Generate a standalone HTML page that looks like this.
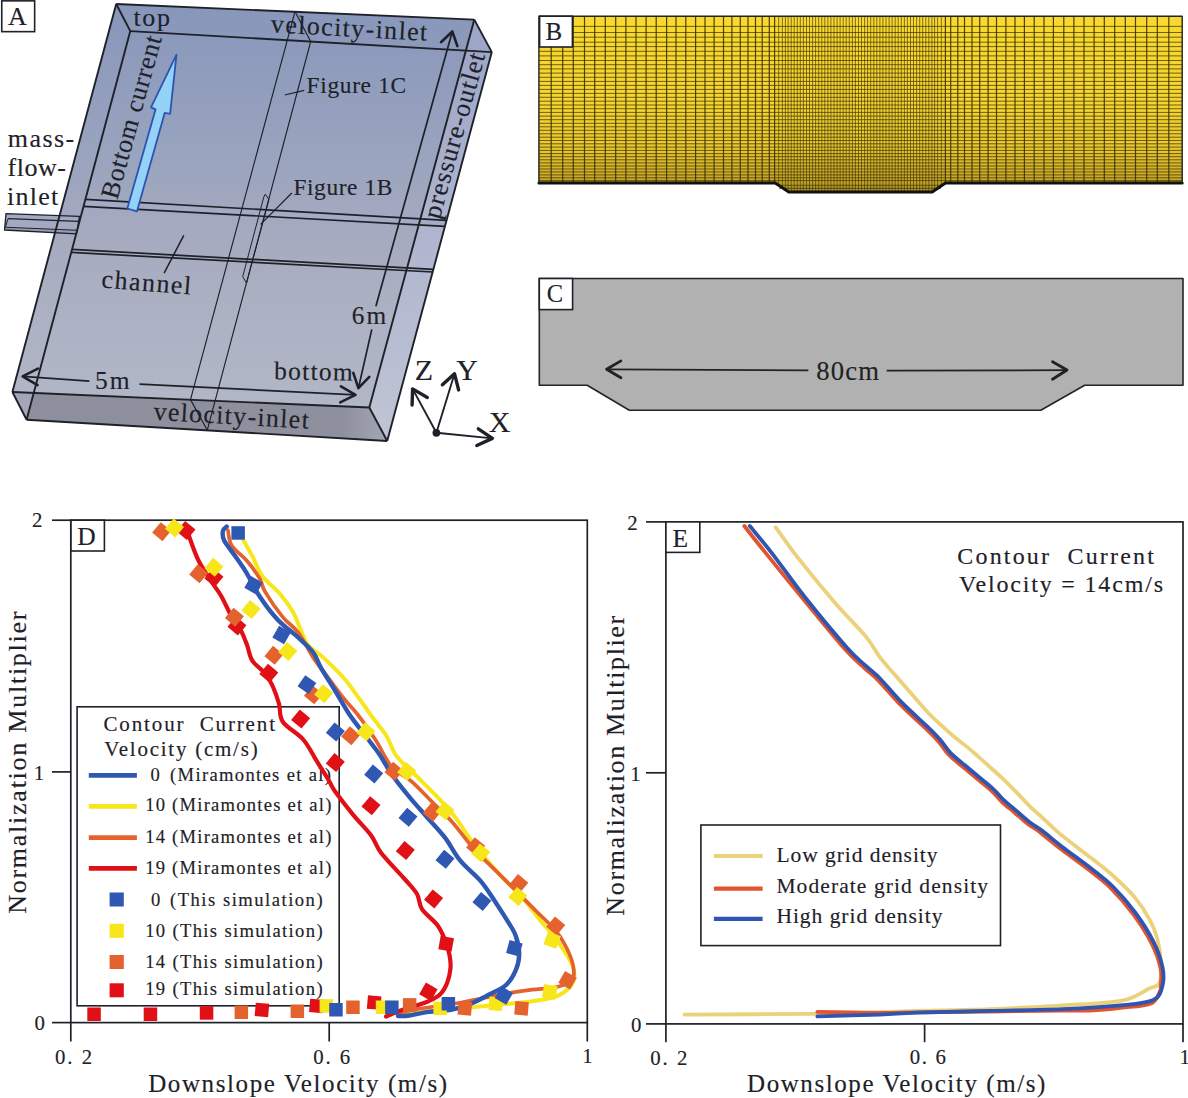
<!DOCTYPE html><html><head><meta charset="utf-8"><style>html,body{margin:0;padding:0;background:#fff;}body{width:1188px;height:1098px;overflow:hidden;}svg{display:block;font-family:"Liberation Serif", serif;}</style></head><body>
<svg width="1188" height="1098" viewBox="0 0 1188 1098">
<defs><linearGradient id="gtop" gradientUnits="userSpaceOnUse" x1="0" y1="4" x2="0" y2="441"><stop offset="0" stop-color="#8796ba"/><stop offset="0.128" stop-color="#8e9bbc"/><stop offset="0.323" stop-color="#98a3be"/><stop offset="0.551" stop-color="#a7abc0"/><stop offset="0.757" stop-color="#adb3c4"/><stop offset="1" stop-color="#b4b9c8"/></linearGradient><linearGradient id="gright" gradientUnits="userSpaceOnUse" x1="0" y1="20" x2="0" y2="441"><stop offset="0" stop-color="#9ca5c8"/><stop offset="1" stop-color="#c0c5d4"/></linearGradient><linearGradient id="gfront" gradientUnits="userSpaceOnUse" x1="12" y1="0" x2="387" y2="0"><stop offset="0" stop-color="#8e8f9c"/><stop offset="0.88" stop-color="#8f909d"/><stop offset="1" stop-color="#a4a6b4"/></linearGradient></defs>
<polygon points="116.2,4.0 474.3,19.6 491.8,52.1 387.2,441.0 26.6,419.7 12.4,392.0" fill="url(#gtop)" stroke="none" stroke-width="1.5" stroke-linejoin="round"/>
<polygon points="474.3,19.6 491.8,52.1 387.2,441.0 369.3,407.5" fill="url(#gright)" stroke="none" stroke-width="1.5" stroke-linejoin="round"/>
<polygon points="12.4,392.0 369.3,407.5 387.2,441.0 26.6,419.7" fill="url(#gfront)" stroke="none" stroke-width="1.5" stroke-linejoin="round"/>
<polygon points="12.4,392.0 33.7,392.9 26.6,419.7" fill="#a3a6b6" stroke="none" stroke-width="1.5" stroke-linejoin="round"/>
<polygon points="85.4,199.4 446.6,220.3 444.9,226.3 83.5,206.3" fill="#a4abc6" stroke="none" stroke-width="1.5" stroke-linejoin="round"/>
<polygon points="72.0,249.4 433.4,269.3 432.7,272.0 71.2,252.4" fill="#a8aec6" stroke="none" stroke-width="1.5" stroke-linejoin="round"/>
<polygon points="6.0,213.6 79.5,216.4 76.5,233.8 4.5,230.0" fill="#a3a9c2" stroke="none" stroke-width="1.5" stroke-linejoin="round"/>
<polygon points="5.4,227.2 77.2,230.3 76.5,233.8 4.5,230.0" fill="#959bb3" stroke="none" stroke-width="1.5" stroke-linejoin="round"/>
<polygon points="6,213.6 79.5,216.4 76.5,233.8 4.5,230" fill="none" stroke="#1e2128" stroke-width="1.3" stroke-linejoin="round"/>
<line x1="8.0" y1="218.6" x2="78.8" y2="221.4" stroke="#1e2128" stroke-width="1.1"/>
<line x1="5.4" y1="227.2" x2="77.2" y2="230.3" stroke="#1e2128" stroke-width="1.1"/>
<line x1="8.0" y1="218.6" x2="5.4" y2="227.2" stroke="#1e2128" stroke-width="1.0"/>
<line x1="116.2" y1="4.0" x2="474.3" y2="19.6" stroke="#1e2128" stroke-width="1.9"/>
<line x1="474.3" y1="19.6" x2="369.3" y2="407.5" stroke="#1e2128" stroke-width="1.9"/>
<line x1="369.3" y1="407.5" x2="12.4" y2="392.0" stroke="#1e2128" stroke-width="1.9"/>
<line x1="12.4" y1="392.0" x2="116.2" y2="4.0" stroke="#1e2128" stroke-width="1.9"/>
<line x1="130.3" y1="31.1" x2="491.8" y2="52.1" stroke="#1e2128" stroke-width="1.9"/>
<line x1="491.8" y1="52.1" x2="387.2" y2="441.0" stroke="#1e2128" stroke-width="1.9"/>
<line x1="387.2" y1="441.0" x2="26.6" y2="419.7" stroke="#1e2128" stroke-width="1.9"/>
<line x1="26.6" y1="419.7" x2="130.3" y2="31.1" stroke="#1e2128" stroke-width="1.9"/>
<line x1="116.2" y1="4.0" x2="130.3" y2="31.1" stroke="#1e2128" stroke-width="1.9"/>
<line x1="474.3" y1="19.6" x2="491.8" y2="52.1" stroke="#1e2128" stroke-width="1.9"/>
<line x1="369.3" y1="407.5" x2="387.2" y2="441.0" stroke="#1e2128" stroke-width="1.9"/>
<line x1="12.4" y1="392.0" x2="26.6" y2="419.7" stroke="#1e2128" stroke-width="1.9"/>
<line x1="85.4" y1="199.4" x2="446.6" y2="220.3" stroke="#1e2128" stroke-width="1.7"/>
<line x1="83.5" y1="206.3" x2="444.9" y2="226.3" stroke="#1e2128" stroke-width="1.7"/>
<line x1="72.0" y1="249.4" x2="433.4" y2="269.3" stroke="#1e2128" stroke-width="1.7"/>
<line x1="71.2" y1="252.4" x2="432.7" y2="272.0" stroke="#1e2128" stroke-width="1.7"/>
<line x1="295.0" y1="11.6" x2="310.7" y2="41.5" stroke="#1e2128" stroke-width="1.15"/>
<line x1="295.0" y1="11.6" x2="190.5" y2="399.6" stroke="#1e2128" stroke-width="1.15"/>
<line x1="310.7" y1="41.5" x2="207.3" y2="430.2" stroke="#1e2128" stroke-width="1.15"/>
<line x1="190.5" y1="399.6" x2="207.3" y2="430.2" stroke="#1e2128" stroke-width="1.15"/>
<polygon points="265.3,194.2 269.0,199.5 246.5,283.0 242.7,276.7 263.8,197.0" fill="none" stroke="#1e2128" stroke-width="1.0" stroke-linejoin="round"/>
<line x1="284.7" y1="95.0" x2="304.2" y2="90.3" stroke="#1e2128" stroke-width="1.2"/>
<line x1="291.8" y1="193.0" x2="260.6" y2="224.4" stroke="#1e2128" stroke-width="1.2"/>
<line x1="183.8" y1="235.3" x2="164.1" y2="273.2" stroke="#1e2128" stroke-width="1.5"/>
<polygon points="127.3,208.5 155.6,109.3 151.0,107.4 176.5,54.6 170.1,113.8 164.7,112.9 137.0,211.3" fill="#94d2f7" stroke="#2a55b0" stroke-width="1.8" stroke-linejoin="round"/>
<line x1="22.6" y1="376.4" x2="89.4" y2="381.2" stroke="#1e2128" stroke-width="1.7"/>
<line x1="139.5" y1="384.2" x2="355.5" y2="394.8" stroke="#1e2128" stroke-width="1.7"/>
<polyline points="37.9,368.7 22.6,376.4 37.5,385.1" fill="none" stroke="#1e2128" stroke-width="2.6" stroke-linejoin="round" stroke-linecap="round" stroke-linecap="butt" stroke-linejoin="miter"/>
<polyline points="340.9,386.4 355.5,394.8 340.2,402.4" fill="none" stroke="#1e2128" stroke-width="2.6" stroke-linejoin="round" stroke-linecap="round" stroke-linecap="butt" stroke-linejoin="miter"/>
<line x1="452.3" y1="31.5" x2="375.9" y2="306.2" stroke="#1e2128" stroke-width="1.7"/>
<line x1="371.8" y1="329.4" x2="358.4" y2="388.2" stroke="#1e2128" stroke-width="1.7"/>
<polyline points="441.0,42.2 452.3,31.5 457.4,46.1" fill="none" stroke="#1e2128" stroke-width="2.6" stroke-linejoin="round" stroke-linecap="round" stroke-linecap="butt" stroke-linejoin="miter"/>
<polyline points="353.3,372.9 358.4,388.2 369.3,376.9" fill="none" stroke="#1e2128" stroke-width="2.6" stroke-linejoin="round" stroke-linecap="round" stroke-linecap="butt" stroke-linejoin="miter"/>
<line x1="436.4" y1="432.8" x2="412.6" y2="388.9" stroke="#1e2128" stroke-width="1.9"/>
<polyline points="412.1,405.0 412.6,388.9 427.3,397.5" fill="none" stroke="#1e2128" stroke-width="3.4" stroke-linejoin="round" stroke-linecap="round" stroke-linecap="butt" stroke-linejoin="miter"/>
<line x1="436.4" y1="432.8" x2="454.5" y2="373.7" stroke="#1e2128" stroke-width="1.9"/>
<polyline points="442.4,384.8 454.5,373.7 458.6,389.9" fill="none" stroke="#1e2128" stroke-width="3.4" stroke-linejoin="round" stroke-linecap="round" stroke-linecap="butt" stroke-linejoin="miter"/>
<line x1="436.4" y1="432.8" x2="492.4" y2="438.4" stroke="#1e2128" stroke-width="1.9"/>
<polyline points="478.3,428.8 492.4,438.4 476.8,445.5" fill="none" stroke="#1e2128" stroke-width="3.4" stroke-linejoin="round" stroke-linecap="round" stroke-linecap="butt" stroke-linejoin="miter"/>
<circle cx="436.4" cy="432.8" r="3.9" fill="#1e2128"/>
<rect x="1.75" y="0.85" width="32.9" height="30.8" fill="#fff" stroke="#1e2128" stroke-width="1.6"/>
<text x="7.9" y="24.9" font-size="26" letter-spacing="0" text-anchor="start" fill="#1e2128" stroke="#1e2128" stroke-width="0.15" xml:space="preserve">A</text>
<text x="7.7" y="147.1" font-size="26" letter-spacing="1.482" text-anchor="start" fill="#1e2128" stroke="#1e2128" stroke-width="0.15" xml:space="preserve">mass-</text>
<text x="7.4" y="175.9" font-size="26" letter-spacing="0.581" text-anchor="start" fill="#1e2128" stroke="#1e2128" stroke-width="0.15" xml:space="preserve">flow-</text>
<text x="6.9" y="205.3" font-size="26" letter-spacing="1.272" text-anchor="start" fill="#1e2128" stroke="#1e2128" stroke-width="0.15" xml:space="preserve">inlet</text>
<text x="133.5" y="25.6" font-size="26" letter-spacing="1.623" text-anchor="start" fill="#1e2128" stroke="#1e2128" stroke-width="0.15" xml:space="preserve">top</text>
<text x="270.6" y="32.3" font-size="26" letter-spacing="1.372" text-anchor="start" fill="#1e2128" stroke="#1e2128" stroke-width="0.15" transform="rotate(3.1 270.6 32.3)" xml:space="preserve">velocity-inlet</text>
<text x="306.6" y="92.6" font-size="23.4" letter-spacing="0.664" text-anchor="start" fill="#1e2128" stroke="#1e2128" stroke-width="0.15" xml:space="preserve">Figure 1C</text>
<text x="293.4" y="194.5" font-size="23.4" letter-spacing="0.608" text-anchor="start" fill="#1e2128" stroke="#1e2128" stroke-width="0.15" xml:space="preserve">Figure 1B</text>
<text x="101.0" y="287.5" font-size="26" letter-spacing="1.494" text-anchor="start" fill="#1e2128" stroke="#1e2128" stroke-width="0.15" transform="rotate(4.5 101.01281818710412 287.5223071063789)" xml:space="preserve">channel</text>
<text x="95.0" y="388.6" font-size="25.5" letter-spacing="1.995" text-anchor="start" fill="#1e2128" stroke="#1e2128" stroke-width="0.15" xml:space="preserve">5m</text>
<text x="351.8" y="323.8" font-size="25.3" letter-spacing="1.953" text-anchor="start" fill="#1e2128" stroke="#1e2128" stroke-width="0.15" xml:space="preserve">6m</text>
<text x="274.0" y="379.2" font-size="25.5" letter-spacing="1.269" text-anchor="start" fill="#1e2128" stroke="#1e2128" stroke-width="0.15" transform="rotate(1.0 274.0 379.2)" xml:space="preserve">bottom</text>
<text x="153.2" y="419.7" font-size="26" letter-spacing="1.295" text-anchor="start" fill="#1e2128" stroke="#1e2128" stroke-width="0.15" transform="rotate(3.3 153.2 419.7)" xml:space="preserve">velocity-inlet</text>
<text x="117.3" y="200.2" font-size="26" letter-spacing="0.751" text-anchor="start" fill="#1e2128" stroke="#1e2128" stroke-width="0.15" transform="rotate(-74.6 117.30109224403088 200.22213005375738)" xml:space="preserve">Bottom current</text>
<text x="439.4" y="219.9" font-size="26" letter-spacing="1.148" text-anchor="start" fill="#1e2128" stroke="#1e2128" stroke-width="0.15" transform="rotate(-74.4 439.3873373017149 219.90351244253534)" xml:space="preserve">pressure-outlet</text>
<text x="414.8" y="379.8" font-size="30" letter-spacing="1.351" text-anchor="start" fill="#1e2128" stroke="#1e2128" stroke-width="0.15" xml:space="preserve">Z</text>
<text x="456.3" y="379.8" font-size="30" letter-spacing="-1.866" text-anchor="start" fill="#1e2128" stroke="#1e2128" stroke-width="0.15" xml:space="preserve">Y</text>
<text x="488.7" y="431.8" font-size="30" letter-spacing="-0.264" text-anchor="start" fill="#1e2128" stroke="#1e2128" stroke-width="0.15" xml:space="preserve">X</text>
<g id="panelB">
<linearGradient id="gmesh" x1="0" y1="0" x2="0" y2="1"><stop offset="0" stop-color="#f8d92e"/><stop offset="0.5" stop-color="#f4d42e"/><stop offset="0.75" stop-color="#e8c82c"/><stop offset="0.9" stop-color="#d0b028"/><stop offset="1" stop-color="#b09422"/></linearGradient>
<polygon points="538.9,16.2 1182.2,16.2 1182.2,182.6 945.5,182.6 932.2,191.8 788.8,191.8 775.2,182.6 538.9,182.6" fill="url(#gmesh)" stroke="none" stroke-width="1.5" stroke-linejoin="round"/>
<g stroke="#3d320c" stroke-width="0.9" opacity="0.8">
<line x1="538.9" y1="26.4" x2="1182.2" y2="26.4" stroke="#3d320c" stroke-width="0.9"/>
<line x1="538.9" y1="32.5" x2="1182.2" y2="32.5" stroke="#3d320c" stroke-width="0.9"/>
<line x1="538.9" y1="37.2" x2="1182.2" y2="37.2" stroke="#3d320c" stroke-width="0.9"/>
<line x1="538.9" y1="42.2" x2="1182.2" y2="42.2" stroke="#3d320c" stroke-width="0.9"/>
<line x1="538.9" y1="46.6" x2="1182.2" y2="46.6" stroke="#3d320c" stroke-width="0.9"/>
<line x1="538.9" y1="51.3" x2="1182.2" y2="51.3" stroke="#3d320c" stroke-width="0.9"/>
<line x1="538.9" y1="55.9" x2="1182.2" y2="55.9" stroke="#3d320c" stroke-width="0.9"/>
<line x1="538.9" y1="60.5" x2="1182.2" y2="60.5" stroke="#3d320c" stroke-width="0.9"/>
<line x1="538.9" y1="64.7" x2="1182.2" y2="64.7" stroke="#3d320c" stroke-width="0.9"/>
<line x1="538.9" y1="68.9" x2="1182.2" y2="68.9" stroke="#3d320c" stroke-width="0.9"/>
<line x1="538.9" y1="73.1" x2="1182.2" y2="73.1" stroke="#3d320c" stroke-width="0.9"/>
<line x1="538.9" y1="77.3" x2="1182.2" y2="77.3" stroke="#3d320c" stroke-width="0.9"/>
<line x1="538.9" y1="81.4" x2="1182.2" y2="81.4" stroke="#3d320c" stroke-width="0.9"/>
<line x1="538.9" y1="85.4" x2="1182.2" y2="85.4" stroke="#3d320c" stroke-width="0.9"/>
<line x1="538.9" y1="89.4" x2="1182.2" y2="89.4" stroke="#3d320c" stroke-width="0.9"/>
<line x1="538.9" y1="93.4" x2="1182.2" y2="93.4" stroke="#3d320c" stroke-width="0.9"/>
<line x1="538.9" y1="97.3" x2="1182.2" y2="97.3" stroke="#3d320c" stroke-width="0.9"/>
<line x1="538.9" y1="101.2" x2="1182.2" y2="101.2" stroke="#3d320c" stroke-width="0.9"/>
<line x1="538.9" y1="105.0" x2="1182.2" y2="105.0" stroke="#3d320c" stroke-width="0.9"/>
<line x1="538.9" y1="108.7" x2="1182.2" y2="108.7" stroke="#3d320c" stroke-width="0.9"/>
<line x1="538.9" y1="112.4" x2="1182.2" y2="112.4" stroke="#3d320c" stroke-width="0.9"/>
<line x1="538.9" y1="116.1" x2="1182.2" y2="116.1" stroke="#3d320c" stroke-width="0.9"/>
<line x1="538.9" y1="119.7" x2="1182.2" y2="119.7" stroke="#3d320c" stroke-width="0.9"/>
<line x1="538.9" y1="123.3" x2="1182.2" y2="123.3" stroke="#3d320c" stroke-width="0.9"/>
<line x1="538.9" y1="126.8" x2="1182.2" y2="126.8" stroke="#3d320c" stroke-width="0.9"/>
<line x1="538.9" y1="130.3" x2="1182.2" y2="130.3" stroke="#3d320c" stroke-width="0.9"/>
<line x1="538.9" y1="133.8" x2="1182.2" y2="133.8" stroke="#3d320c" stroke-width="0.9"/>
<line x1="538.9" y1="137.2" x2="1182.2" y2="137.2" stroke="#3d320c" stroke-width="0.9"/>
<line x1="538.9" y1="140.5" x2="1182.2" y2="140.5" stroke="#3d320c" stroke-width="0.9"/>
<line x1="538.9" y1="143.8" x2="1182.2" y2="143.8" stroke="#3d320c" stroke-width="0.9"/>
<line x1="538.9" y1="147.1" x2="1182.2" y2="147.1" stroke="#3d320c" stroke-width="0.9"/>
<line x1="538.9" y1="150.4" x2="1182.2" y2="150.4" stroke="#3d320c" stroke-width="0.9"/>
<line x1="538.9" y1="153.6" x2="1182.2" y2="153.6" stroke="#3d320c" stroke-width="0.9"/>
<line x1="538.9" y1="156.7" x2="1182.2" y2="156.7" stroke="#3d320c" stroke-width="0.9"/>
<line x1="538.9" y1="159.8" x2="1182.2" y2="159.8" stroke="#3d320c" stroke-width="0.9"/>
<line x1="538.9" y1="162.9" x2="1182.2" y2="162.9" stroke="#3d320c" stroke-width="0.9"/>
<line x1="538.9" y1="166.0" x2="1182.2" y2="166.0" stroke="#3d320c" stroke-width="0.9"/>
<line x1="538.9" y1="169.0" x2="1182.2" y2="169.0" stroke="#3d320c" stroke-width="0.9"/>
<line x1="538.9" y1="171.9" x2="1182.2" y2="171.9" stroke="#3d320c" stroke-width="0.9"/>
<line x1="538.9" y1="174.9" x2="1182.2" y2="174.9" stroke="#3d320c" stroke-width="0.9"/>
<line x1="538.9" y1="177.8" x2="1182.2" y2="177.8" stroke="#3d320c" stroke-width="0.9"/>
<line x1="538.9" y1="180.6" x2="1182.2" y2="180.6" stroke="#3d320c" stroke-width="0.9"/>
<line x1="779.0" y1="185.3" x2="941.0" y2="185.3" stroke="#3d320c" stroke-width="0.9"/>
<line x1="779.0" y1="188.3" x2="941.0" y2="188.3" stroke="#3d320c" stroke-width="0.9"/>
</g>
<g stroke="#3d320c" stroke-width="1.0" opacity="0.9">
<line x1="551.2" y1="16.2" x2="551.2" y2="182.6" stroke="#3d320c" stroke-width="1.2"/>
<line x1="562.7" y1="16.2" x2="562.7" y2="182.6" stroke="#3d320c" stroke-width="1.2"/>
<line x1="573.3" y1="16.2" x2="573.3" y2="182.6" stroke="#3d320c" stroke-width="1.2"/>
<line x1="584.5" y1="16.2" x2="584.5" y2="182.6" stroke="#3d320c" stroke-width="1.2"/>
<line x1="594.7" y1="16.2" x2="594.7" y2="182.6" stroke="#3d320c" stroke-width="1.2"/>
<line x1="605.3" y1="16.2" x2="605.3" y2="182.6" stroke="#3d320c" stroke-width="1.2"/>
<line x1="615.7" y1="16.2" x2="615.7" y2="182.6" stroke="#3d320c" stroke-width="1.2"/>
<line x1="625.9" y1="16.2" x2="625.9" y2="182.6" stroke="#3d320c" stroke-width="1.2"/>
<line x1="636.0" y1="16.2" x2="636.0" y2="182.6" stroke="#3d320c" stroke-width="1.2"/>
<line x1="646.1" y1="16.2" x2="646.1" y2="182.6" stroke="#3d320c" stroke-width="1.2"/>
<line x1="656.2" y1="16.2" x2="656.2" y2="182.6" stroke="#3d320c" stroke-width="1.2"/>
<line x1="666.6" y1="16.2" x2="666.6" y2="182.6" stroke="#3d320c" stroke-width="1.2"/>
<line x1="676.0" y1="16.2" x2="676.0" y2="182.6" stroke="#3d320c" stroke-width="1.2"/>
<line x1="685.8" y1="16.2" x2="685.8" y2="182.6" stroke="#3d320c" stroke-width="1.2"/>
<line x1="695.6" y1="16.2" x2="695.6" y2="182.6" stroke="#3d320c" stroke-width="1.2"/>
<line x1="705.0" y1="16.2" x2="705.0" y2="182.6" stroke="#3d320c" stroke-width="1.2"/>
<line x1="714.1" y1="16.2" x2="714.1" y2="182.6" stroke="#3d320c" stroke-width="1.2"/>
<line x1="723.5" y1="16.2" x2="723.5" y2="182.6" stroke="#3d320c" stroke-width="1.2"/>
<line x1="731.9" y1="16.2" x2="731.9" y2="182.6" stroke="#3d320c" stroke-width="1.2"/>
<line x1="740.3" y1="16.2" x2="740.3" y2="182.6" stroke="#3d320c" stroke-width="1.2"/>
<line x1="748.0" y1="16.2" x2="748.0" y2="182.6" stroke="#3d320c" stroke-width="1.2"/>
<line x1="755.5" y1="16.2" x2="755.5" y2="182.6" stroke="#3d320c" stroke-width="1.2"/>
<line x1="762.2" y1="16.2" x2="762.2" y2="182.6" stroke="#3d320c" stroke-width="1.2"/>
<line x1="769.3" y1="16.2" x2="769.3" y2="182.6" stroke="#3d320c" stroke-width="1.2"/>
<line x1="774.6" y1="16.2" x2="774.6" y2="182.6" stroke="#3d320c" stroke-width="1.2"/>
<line x1="778.7" y1="16.2" x2="778.7" y2="185.0" stroke="#3d320c" stroke-width="0.7"/>
<line x1="782.4" y1="16.2" x2="782.4" y2="187.5" stroke="#3d320c" stroke-width="0.7"/>
<line x1="785.4" y1="16.2" x2="785.4" y2="189.5" stroke="#3d320c" stroke-width="0.7"/>
<line x1="788.1" y1="16.2" x2="788.1" y2="191.3" stroke="#3d320c" stroke-width="0.7"/>
<line x1="791.2" y1="16.2" x2="791.2" y2="191.8" stroke="#3d320c" stroke-width="0.7"/>
<line x1="794.2" y1="16.2" x2="794.2" y2="191.8" stroke="#3d320c" stroke-width="0.7"/>
<line x1="797.3" y1="16.2" x2="797.3" y2="191.8" stroke="#3d320c" stroke-width="0.7"/>
<line x1="800.3" y1="16.2" x2="800.3" y2="191.8" stroke="#3d320c" stroke-width="0.7"/>
<line x1="803.4" y1="16.2" x2="803.4" y2="191.8" stroke="#3d320c" stroke-width="0.7"/>
<line x1="806.5" y1="16.2" x2="806.5" y2="191.8" stroke="#3d320c" stroke-width="0.7"/>
<line x1="809.5" y1="16.2" x2="809.5" y2="191.8" stroke="#3d320c" stroke-width="0.7"/>
<line x1="812.6" y1="16.2" x2="812.6" y2="191.8" stroke="#3d320c" stroke-width="0.7"/>
<line x1="815.6" y1="16.2" x2="815.6" y2="191.8" stroke="#3d320c" stroke-width="0.7"/>
<line x1="818.7" y1="16.2" x2="818.7" y2="191.8" stroke="#3d320c" stroke-width="0.7"/>
<line x1="821.8" y1="16.2" x2="821.8" y2="191.8" stroke="#3d320c" stroke-width="0.7"/>
<line x1="824.8" y1="16.2" x2="824.8" y2="191.8" stroke="#3d320c" stroke-width="0.7"/>
<line x1="827.9" y1="16.2" x2="827.9" y2="191.8" stroke="#3d320c" stroke-width="0.7"/>
<line x1="830.9" y1="16.2" x2="830.9" y2="191.8" stroke="#3d320c" stroke-width="0.7"/>
<line x1="834.0" y1="16.2" x2="834.0" y2="191.8" stroke="#3d320c" stroke-width="0.7"/>
<line x1="837.1" y1="16.2" x2="837.1" y2="191.8" stroke="#3d320c" stroke-width="0.7"/>
<line x1="840.1" y1="16.2" x2="840.1" y2="191.8" stroke="#3d320c" stroke-width="0.7"/>
<line x1="843.2" y1="16.2" x2="843.2" y2="191.8" stroke="#3d320c" stroke-width="0.7"/>
<line x1="846.2" y1="16.2" x2="846.2" y2="191.8" stroke="#3d320c" stroke-width="0.7"/>
<line x1="849.3" y1="16.2" x2="849.3" y2="191.8" stroke="#3d320c" stroke-width="0.7"/>
<line x1="852.4" y1="16.2" x2="852.4" y2="191.8" stroke="#3d320c" stroke-width="0.7"/>
<line x1="855.4" y1="16.2" x2="855.4" y2="191.8" stroke="#3d320c" stroke-width="0.7"/>
<line x1="858.5" y1="16.2" x2="858.5" y2="191.8" stroke="#3d320c" stroke-width="0.7"/>
<line x1="861.5" y1="16.2" x2="861.5" y2="191.8" stroke="#3d320c" stroke-width="0.7"/>
<line x1="864.6" y1="16.2" x2="864.6" y2="191.8" stroke="#3d320c" stroke-width="0.7"/>
<line x1="867.6" y1="16.2" x2="867.6" y2="191.8" stroke="#3d320c" stroke-width="0.7"/>
<line x1="870.7" y1="16.2" x2="870.7" y2="191.8" stroke="#3d320c" stroke-width="0.7"/>
<line x1="873.8" y1="16.2" x2="873.8" y2="191.8" stroke="#3d320c" stroke-width="0.7"/>
<line x1="876.8" y1="16.2" x2="876.8" y2="191.8" stroke="#3d320c" stroke-width="0.7"/>
<line x1="879.9" y1="16.2" x2="879.9" y2="191.8" stroke="#3d320c" stroke-width="0.7"/>
<line x1="882.9" y1="16.2" x2="882.9" y2="191.8" stroke="#3d320c" stroke-width="0.7"/>
<line x1="886.0" y1="16.2" x2="886.0" y2="191.8" stroke="#3d320c" stroke-width="0.7"/>
<line x1="889.1" y1="16.2" x2="889.1" y2="191.8" stroke="#3d320c" stroke-width="0.7"/>
<line x1="892.1" y1="16.2" x2="892.1" y2="191.8" stroke="#3d320c" stroke-width="0.7"/>
<line x1="895.2" y1="16.2" x2="895.2" y2="191.8" stroke="#3d320c" stroke-width="0.7"/>
<line x1="898.2" y1="16.2" x2="898.2" y2="191.8" stroke="#3d320c" stroke-width="0.7"/>
<line x1="901.3" y1="16.2" x2="901.3" y2="191.8" stroke="#3d320c" stroke-width="0.7"/>
<line x1="904.4" y1="16.2" x2="904.4" y2="191.8" stroke="#3d320c" stroke-width="0.7"/>
<line x1="907.4" y1="16.2" x2="907.4" y2="191.8" stroke="#3d320c" stroke-width="0.7"/>
<line x1="910.5" y1="16.2" x2="910.5" y2="191.8" stroke="#3d320c" stroke-width="0.7"/>
<line x1="913.5" y1="16.2" x2="913.5" y2="191.8" stroke="#3d320c" stroke-width="0.7"/>
<line x1="916.6" y1="16.2" x2="916.6" y2="191.8" stroke="#3d320c" stroke-width="0.7"/>
<line x1="919.7" y1="16.2" x2="919.7" y2="191.8" stroke="#3d320c" stroke-width="0.7"/>
<line x1="922.7" y1="16.2" x2="922.7" y2="191.8" stroke="#3d320c" stroke-width="0.7"/>
<line x1="925.8" y1="16.2" x2="925.8" y2="191.8" stroke="#3d320c" stroke-width="0.7"/>
<line x1="928.8" y1="16.2" x2="928.8" y2="191.8" stroke="#3d320c" stroke-width="0.7"/>
<line x1="945.4" y1="16.2" x2="945.4" y2="182.6" stroke="#3d320c" stroke-width="1.2"/>
<line x1="941.3" y1="16.2" x2="941.3" y2="185.5" stroke="#3d320c" stroke-width="0.7"/>
<line x1="937.6" y1="16.2" x2="937.6" y2="188.1" stroke="#3d320c" stroke-width="0.7"/>
<line x1="934.6" y1="16.2" x2="934.6" y2="190.1" stroke="#3d320c" stroke-width="0.7"/>
<line x1="931.9" y1="16.2" x2="931.9" y2="192.0" stroke="#3d320c" stroke-width="0.7"/>
<line x1="1168.8" y1="16.2" x2="1168.8" y2="182.6" stroke="#3d320c" stroke-width="1.2"/>
<line x1="1157.3" y1="16.2" x2="1157.3" y2="182.6" stroke="#3d320c" stroke-width="1.2"/>
<line x1="1146.7" y1="16.2" x2="1146.7" y2="182.6" stroke="#3d320c" stroke-width="1.2"/>
<line x1="1135.5" y1="16.2" x2="1135.5" y2="182.6" stroke="#3d320c" stroke-width="1.2"/>
<line x1="1125.3" y1="16.2" x2="1125.3" y2="182.6" stroke="#3d320c" stroke-width="1.2"/>
<line x1="1114.7" y1="16.2" x2="1114.7" y2="182.6" stroke="#3d320c" stroke-width="1.2"/>
<line x1="1104.3" y1="16.2" x2="1104.3" y2="182.6" stroke="#3d320c" stroke-width="1.2"/>
<line x1="1094.1" y1="16.2" x2="1094.1" y2="182.6" stroke="#3d320c" stroke-width="1.2"/>
<line x1="1084.0" y1="16.2" x2="1084.0" y2="182.6" stroke="#3d320c" stroke-width="1.2"/>
<line x1="1073.9" y1="16.2" x2="1073.9" y2="182.6" stroke="#3d320c" stroke-width="1.2"/>
<line x1="1063.8" y1="16.2" x2="1063.8" y2="182.6" stroke="#3d320c" stroke-width="1.2"/>
<line x1="1053.4" y1="16.2" x2="1053.4" y2="182.6" stroke="#3d320c" stroke-width="1.2"/>
<line x1="1044.0" y1="16.2" x2="1044.0" y2="182.6" stroke="#3d320c" stroke-width="1.2"/>
<line x1="1034.2" y1="16.2" x2="1034.2" y2="182.6" stroke="#3d320c" stroke-width="1.2"/>
<line x1="1024.4" y1="16.2" x2="1024.4" y2="182.6" stroke="#3d320c" stroke-width="1.2"/>
<line x1="1015.0" y1="16.2" x2="1015.0" y2="182.6" stroke="#3d320c" stroke-width="1.2"/>
<line x1="1005.9" y1="16.2" x2="1005.9" y2="182.6" stroke="#3d320c" stroke-width="1.2"/>
<line x1="996.5" y1="16.2" x2="996.5" y2="182.6" stroke="#3d320c" stroke-width="1.2"/>
<line x1="988.1" y1="16.2" x2="988.1" y2="182.6" stroke="#3d320c" stroke-width="1.2"/>
<line x1="979.7" y1="16.2" x2="979.7" y2="182.6" stroke="#3d320c" stroke-width="1.2"/>
<line x1="972.0" y1="16.2" x2="972.0" y2="182.6" stroke="#3d320c" stroke-width="1.2"/>
<line x1="964.5" y1="16.2" x2="964.5" y2="182.6" stroke="#3d320c" stroke-width="1.2"/>
<line x1="957.8" y1="16.2" x2="957.8" y2="182.6" stroke="#3d320c" stroke-width="1.2"/>
<line x1="950.7" y1="16.2" x2="950.7" y2="182.6" stroke="#3d320c" stroke-width="1.2"/>
</g>
<polyline points="538.9,182.9 775.2,182.9 788.8,192.0 932.2,192.0 945.5,182.9 1182.2,182.9" fill="none" stroke="#111" stroke-width="3.0" stroke-linejoin="round" stroke-linecap="round"/>
<polyline points="538.9,182.6 538.9,16.2 1182.2,16.2 1182.2,182.6" fill="none" stroke="#222" stroke-width="1.4" stroke-linejoin="round" stroke-linecap="round"/>
</g>
<rect x="539.6" y="16.2" width="32.8" height="30.8" fill="#fff" stroke="#1e2128" stroke-width="1.6"/>
<text x="545.6" y="40.3" font-size="25" letter-spacing="0" text-anchor="start" fill="#1e2128" stroke="#1e2128" stroke-width="0.15" xml:space="preserve">B</text>
<polygon points="539.3,278.5 1183.0,278.5 1183.0,385.3 1084.7,385.3 1040.8,410.3 629.3,410.3 587.2,385.3 539.3,385.3" fill="#b1b1b1" stroke="#252525" stroke-width="1.6" stroke-linejoin="round"/>
<rect x="539.3" y="278.5" width="33.3" height="31.1" fill="#fff" stroke="#1e2128" stroke-width="1.6"/>
<text x="546.7" y="302.3" font-size="24.5" letter-spacing="0" text-anchor="start" fill="#1e2128" stroke="#1e2128" stroke-width="0.15" xml:space="preserve">C</text>
<line x1="606.6" y1="369.3" x2="808.4" y2="370.3" stroke="#222" stroke-width="1.8"/>
<line x1="886.7" y1="370.6" x2="1067.0" y2="370.2" stroke="#222" stroke-width="1.8"/>
<polyline points="620.9,360.9 606.6,369.3 620.9,377.7" fill="none" stroke="#1e2128" stroke-width="2.8" stroke-linejoin="round" stroke-linecap="round" stroke-linecap="butt" stroke-linejoin="miter"/>
<polyline points="1052.5,361.7 1067.0,370.0 1052.5,379.2" fill="none" stroke="#1e2128" stroke-width="2.8" stroke-linejoin="round" stroke-linecap="round" stroke-linecap="butt" stroke-linejoin="miter"/>
<text x="816.3" y="379.5" font-size="26.7" letter-spacing="1.172" text-anchor="start" fill="#222" stroke="#222" stroke-width="0.15" xml:space="preserve">80cm</text>
<rect x="70.8" y="520.2" width="516.5" height="502.4" fill="none" stroke="#1e2128" stroke-width="1.7"/>
<line x1="52.0" y1="520.2" x2="70.8" y2="520.2" stroke="#1e2128" stroke-width="1.7"/>
<line x1="52.0" y1="771.9" x2="70.8" y2="771.9" stroke="#1e2128" stroke-width="1.7"/>
<line x1="52.0" y1="1022.6" x2="70.8" y2="1022.6" stroke="#1e2128" stroke-width="1.7"/>
<line x1="70.8" y1="1022.6" x2="70.8" y2="1041.5" stroke="#1e2128" stroke-width="1.7"/>
<line x1="329.2" y1="1022.6" x2="329.2" y2="1041.5" stroke="#1e2128" stroke-width="1.7"/>
<line x1="587.3" y1="1022.6" x2="587.3" y2="1041.5" stroke="#1e2128" stroke-width="1.7"/>
<text x="31.9" y="527.3" font-size="20.8" letter-spacing="2.562" text-anchor="start" fill="#1e2128" stroke="#1e2128" stroke-width="0.15" xml:space="preserve">2</text>
<text x="33.7" y="779.5" font-size="20.8" letter-spacing="0.877" text-anchor="start" fill="#1e2128" stroke="#1e2128" stroke-width="0.15" xml:space="preserve">1</text>
<text x="34.5" y="1030.0" font-size="20.8" letter-spacing="1.884" text-anchor="start" fill="#1e2128" stroke="#1e2128" stroke-width="0.15" xml:space="preserve">0</text>
<text x="54.9" y="1063.5" font-size="20.8" letter-spacing="2.013" text-anchor="start" fill="#1e2128" stroke="#1e2128" stroke-width="0.15" xml:space="preserve">0. 2</text>
<text x="313.2" y="1063.5" font-size="20.8" letter-spacing="1.904" text-anchor="start" fill="#1e2128" stroke="#1e2128" stroke-width="0.15" xml:space="preserve">0. 6</text>
<text x="582.2" y="1062.8" font-size="20.8" letter-spacing="-0.323" text-anchor="start" fill="#1e2128" stroke="#1e2128" stroke-width="0.15" xml:space="preserve">1</text>
<text x="148.2" y="1091.5" font-size="25" letter-spacing="1.604" text-anchor="start" fill="#1e2128" stroke="#1e2128" stroke-width="0.15" xml:space="preserve">Downslope Velocity (m/s)</text>
<text x="25.9" y="913.8" font-size="26" letter-spacing="1.751" text-anchor="start" fill="#1e2128" stroke="#1e2128" stroke-width="0.15" transform="rotate(-90 25.9 913.8490234375)" xml:space="preserve">Normalization Multiplier</text>
<rect x="71" y="520.2" width="33.4" height="30.8" fill="#fff" stroke="#1e2128" stroke-width="1.6"/>
<text x="77.2" y="545.1" font-size="25.5" letter-spacing="0" text-anchor="start" fill="#1e2128" stroke="#1e2128" stroke-width="0.15" xml:space="preserve">D</text>
<rect x="77.1" y="706.8" width="262.1" height="299" fill="none" stroke="#1e2128" stroke-width="1.6"/>
<text x="103.5" y="731.1" font-size="21" letter-spacing="1.867" text-anchor="start" fill="#1e2128" stroke="#1e2128" stroke-width="0.15" xml:space="preserve">Contour  Current</text>
<text x="104.2" y="756.4" font-size="21" letter-spacing="1.754" text-anchor="start" fill="#1e2128" stroke="#1e2128" stroke-width="0.15" xml:space="preserve">Velocity (cm/s)</text>
<line x1="88.8" y1="775.3" x2="136.9" y2="775.3" stroke="#2f58b3" stroke-width="4.8"/>
<line x1="88.8" y1="806.4" x2="136.9" y2="806.4" stroke="#f7e619" stroke-width="4.8"/>
<line x1="88.8" y1="837.7" x2="136.9" y2="837.7" stroke="#e4622e" stroke-width="4.8"/>
<line x1="88.8" y1="868.3" x2="136.9" y2="868.3" stroke="#e10f16" stroke-width="4.8"/>
<rect x="109.6" y="892.5" width="14.2" height="14" fill="#2f58b3"/>
<rect x="109.6" y="923.8" width="14.2" height="14" fill="#f7e619"/>
<rect x="109.6" y="955.0" width="14.2" height="14" fill="#e4622e"/>
<rect x="109.6" y="983.3" width="14.2" height="14" fill="#e10f16"/>
<text x="150.4" y="780.8" font-size="18.6" letter-spacing="0.917" text-anchor="start" fill="#1e2128" stroke="#1e2128" stroke-width="0.15" xml:space="preserve">0</text>
<text x="170.0" y="780.8" font-size="18.6" letter-spacing="1.33" text-anchor="start" fill="#1e2128" stroke="#1e2128" stroke-width="0.15" xml:space="preserve">(Miramontes et al)</text>
<text x="145.2" y="811.4" font-size="18.6" letter-spacing="1.229" text-anchor="start" fill="#1e2128" stroke="#1e2128" stroke-width="0.15" xml:space="preserve">10 (Miramontes et al)</text>
<text x="145.2" y="843.2" font-size="18.6" letter-spacing="1.229" text-anchor="start" fill="#1e2128" stroke="#1e2128" stroke-width="0.15" xml:space="preserve">14 (Miramontes et al)</text>
<text x="145.2" y="873.8" font-size="18.6" letter-spacing="1.229" text-anchor="start" fill="#1e2128" stroke="#1e2128" stroke-width="0.15" xml:space="preserve">19 (Miramontes et al)</text>
<text x="150.9" y="905.8" font-size="18.6" letter-spacing="0.917" text-anchor="start" fill="#1e2128" stroke="#1e2128" stroke-width="0.15" xml:space="preserve">0</text>
<text x="170.0" y="905.8" font-size="18.6" letter-spacing="1.5" text-anchor="start" fill="#1e2128" stroke="#1e2128" stroke-width="0.15" xml:space="preserve">(This simulation)</text>
<text x="145.2" y="937.1" font-size="18.6" letter-spacing="1.345" text-anchor="start" fill="#1e2128" stroke="#1e2128" stroke-width="0.15" xml:space="preserve">10 (This simulation)</text>
<text x="145.2" y="968.2" font-size="18.6" letter-spacing="1.345" text-anchor="start" fill="#1e2128" stroke="#1e2128" stroke-width="0.15" xml:space="preserve">14 (This simulation)</text>
<text x="145.2" y="995.4" font-size="18.6" letter-spacing="1.345" text-anchor="start" fill="#1e2128" stroke="#1e2128" stroke-width="0.15" xml:space="preserve">19 (This simulation)</text>
<path d="M240.7,535.5 C242.6,538.9 248.6,549.1 252.2,555.9 C255.8,562.7 257.7,569.9 262.4,576.3 C267.1,582.7 275.2,588.2 280.3,594.2 C285.4,600.2 289.6,606.0 293.0,612.0 C296.4,618.0 298.1,624.4 300.7,629.9 C303.2,635.4 304.5,640.5 308.3,645.2 C312.1,649.9 317.7,652.4 323.6,657.9 C329.6,663.4 338.1,671.5 344.0,678.3 C349.9,685.1 354.8,692.5 359.3,698.7 C363.8,704.9 366.5,709.1 371.0,715.3 C375.5,721.5 382.1,728.9 386.3,735.7 C390.6,742.5 391.8,749.7 396.5,756.1 C401.2,762.5 407.6,767.2 414.4,774.0 C421.2,780.8 430.5,789.7 437.3,796.9 C444.1,804.1 449.2,809.6 455.2,817.3 C461.1,824.9 465.8,833.4 473.0,842.8 C480.2,852.1 490.4,864.5 498.5,873.4 C506.6,882.3 514.7,888.8 521.5,896.4 C528.3,904.0 533.8,912.5 539.3,919.3 C544.8,926.1 549.5,930.4 554.6,937.2 C559.7,944.0 566.6,953.7 569.9,960.1 C573.2,966.5 574.5,970.9 574.5,975.4 C574.5,979.9 572.9,983.7 569.8,987.2 C566.7,990.7 562.0,994.2 555.7,996.6 C549.4,999.0 540.0,1000.1 532.1,1001.3 C524.2,1002.5 516.4,1002.9 508.5,1003.7 C500.6,1004.5 492.9,1005.2 485.0,1006.0 C477.1,1006.8 470.0,1007.6 461.4,1008.4 C452.8,1009.2 441.7,1010.0 433.1,1010.8 C424.5,1011.6 415.1,1012.7 409.6,1013.1 C404.1,1013.5 401.7,1013.1 400.1,1013.1" fill="none" stroke="#f7e619" stroke-width="4.0" stroke-linejoin="round" stroke-linecap="round"/>
<path d="M228.0,530.4 C228.6,533.0 228.6,540.6 231.8,545.7 C235.0,550.8 242.4,555.5 247.1,561.0 C251.8,566.5 256.9,573.8 259.9,578.9 C262.9,584.0 261.2,585.2 265.0,591.6 C268.8,598.0 277.3,610.3 282.8,617.1 C288.3,623.9 293.0,625.6 298.1,632.4 C303.2,639.2 308.3,650.2 313.4,657.9 C318.5,665.5 323.6,671.5 328.7,678.3 C333.8,685.1 339.1,692.5 344.0,698.7 C348.9,704.9 352.9,708.3 358.3,715.3 C363.7,722.3 370.6,732.3 376.1,740.8 C381.6,749.3 385.4,759.5 391.4,766.3 C397.3,773.1 405.0,775.6 411.8,781.6 C418.6,787.6 425.4,795.2 432.2,802.0 C439.0,808.8 445.8,814.8 452.6,822.4 C459.4,830.0 465.4,839.4 473.0,847.9 C480.6,856.4 490.9,865.8 498.5,873.4 C506.1,881.0 512.5,887.4 518.9,893.8 C525.3,900.2 530.8,905.8 536.8,911.7 C542.8,917.7 549.9,924.0 554.6,929.5 C559.3,935.0 562.0,939.1 565.1,945.0 C568.2,950.9 571.8,959.1 573.0,965.0 C574.2,970.9 575.1,976.4 572.2,980.1 C569.3,983.8 562.4,985.6 555.7,987.2 C549.0,988.8 540.0,988.6 532.1,989.6 C524.2,990.6 516.4,991.7 508.5,993.1 C500.6,994.5 492.9,996.2 485.0,997.8 C477.1,999.4 469.3,1001.1 461.4,1002.5 C453.5,1003.9 445.6,1004.8 437.8,1006.0 C430.0,1007.2 421.4,1008.4 414.3,1009.6 C407.2,1010.8 398.5,1012.5 395.4,1013.1" fill="none" stroke="#e4622e" stroke-width="3.7" stroke-linejoin="round" stroke-linecap="round"/>
<path d="M226.7,526.6 C226.1,527.3 223.3,528.7 222.9,531.0 C222.5,533.3 221.9,536.0 224.2,540.6 C226.5,545.2 233.1,553.0 236.9,558.5 C240.7,564.0 243.3,567.4 247.1,573.8 C250.9,580.2 254.8,589.1 259.9,596.7 C265.0,604.4 271.3,612.9 277.7,619.7 C284.1,626.5 292.2,632.0 298.1,637.5 C304.1,643.0 309.6,647.7 313.4,652.8 C317.2,657.9 317.7,662.1 321.1,668.1 C324.5,674.1 329.1,680.9 333.8,688.5 C338.5,696.1 344.0,706.4 349.1,714.0 C354.2,721.6 359.3,727.6 364.4,734.4 C369.5,741.2 375.2,748.2 379.7,754.8 C384.2,761.4 386.5,767.0 391.4,774.0 C396.3,781.0 403.4,789.7 409.3,796.9 C415.2,804.1 421.2,810.5 427.1,817.3 C433.1,824.1 439.5,830.5 445.0,837.7 C450.5,844.9 454.4,853.5 460.3,860.7 C466.2,867.9 475.2,874.7 480.7,881.1 C486.2,887.5 489.1,892.6 493.4,898.9 C497.6,905.2 502.5,912.8 506.2,918.9 C509.9,925.0 513.4,929.5 515.6,935.4 C517.8,941.3 519.2,948.3 519.2,954.2 C519.2,960.1 517.8,965.6 515.6,970.7 C513.4,975.8 510.5,980.9 506.2,984.8 C501.9,988.7 495.6,991.1 489.7,994.3 C483.8,997.4 477.1,1001.2 470.8,1003.7 C464.5,1006.2 459.1,1008.2 452.0,1009.6 C444.9,1011.0 435.5,1010.9 428.4,1011.9 C421.3,1012.9 414.7,1014.8 409.6,1015.5 C404.5,1016.2 399.9,1015.9 398.0,1016.0" fill="none" stroke="#2f58b3" stroke-width="4.4" stroke-linejoin="round" stroke-linecap="round"/>
<path d="M185.9,525.3 C186.5,527.4 187.6,532.0 189.7,538.0 C191.8,544.0 195.1,553.8 198.7,561.0 C202.3,568.2 207.6,575.4 211.4,581.4 C215.2,587.4 218.2,590.8 221.6,596.7 C225.0,602.7 228.6,611.6 231.8,617.1 C235.0,622.6 238.1,625.2 240.7,629.9 C243.2,634.6 245.2,640.1 247.1,645.2 C249.0,650.3 249.2,655.8 252.2,660.5 C255.2,665.2 261.6,669.0 265.0,673.2 C268.4,677.5 270.3,680.9 272.6,686.0 C274.9,691.1 277.3,697.8 279.0,703.8 C280.7,709.8 278.8,715.8 282.8,721.7 C286.8,727.7 297.7,733.1 303.2,739.5 C308.7,745.9 311.8,753.1 316.0,759.9 C320.2,766.7 325.5,775.0 328.7,780.3 C331.9,785.6 331.2,786.0 335.3,791.8 C339.4,797.5 347.2,807.6 353.2,814.8 C359.1,822.0 366.3,828.8 371.0,835.2 C375.7,841.6 375.7,845.8 381.2,853.0 C386.7,860.2 398.2,871.7 404.2,878.5 C410.1,885.3 413.9,888.7 416.9,893.8 C419.9,898.9 418.6,903.9 422.0,909.1 C425.4,914.3 433.5,919.9 437.3,925.0 C441.1,930.1 443.0,935.0 445.0,940.0 C447.0,945.0 448.6,950.3 449.5,955.0 C450.4,959.7 450.9,963.4 450.5,968.0 C450.1,972.6 449.0,978.1 447.3,982.5 C445.6,986.9 443.4,991.2 440.2,994.3 C437.0,997.4 432.7,999.3 428.4,1001.3 C424.1,1003.2 419.0,1004.4 414.3,1006.0 C409.6,1007.6 404.0,1009.4 400.1,1010.8 C396.2,1012.2 393.1,1013.5 390.7,1014.5 C388.3,1015.5 386.8,1016.2 386.0,1016.5" fill="none" stroke="#e10f16" stroke-width="4.2" stroke-linejoin="round" stroke-linecap="round"/>
<rect x="179.2" y="523.6" width="13.5" height="13.5" fill="#e10f16" transform="rotate(40 185.9 530.4)"/>
<rect x="207.2" y="570.9" width="13.5" height="13.5" fill="#e10f16" transform="rotate(40 214.0 577.6)"/>
<rect x="230.2" y="619.2" width="13.5" height="13.5" fill="#e10f16" transform="rotate(40 236.9 626.0)"/>
<rect x="262.1" y="666.5" width="13.5" height="13.5" fill="#e10f16" transform="rotate(40 268.8 673.2)"/>
<rect x="293.9" y="712.4" width="13.5" height="13.5" fill="#e10f16" transform="rotate(40 300.7 719.1)"/>
<rect x="328.6" y="755.8" width="13.5" height="13.5" fill="#e10f16" transform="rotate(40 335.3 762.5)"/>
<rect x="364.2" y="799.0" width="13.5" height="13.5" fill="#e10f16" transform="rotate(40 371.0 805.8)"/>
<rect x="398.6" y="843.8" width="13.5" height="13.5" fill="#e10f16" transform="rotate(40 405.4 850.5)"/>
<rect x="426.8" y="892.1" width="13.5" height="13.5" fill="#e10f16" transform="rotate(40 433.5 898.9)"/>
<rect x="439.4" y="936.9" width="13.5" height="13.5" fill="#e10f16" transform="rotate(10 446.1 943.6)"/>
<rect x="421.6" y="985.1" width="13.5" height="13.5" fill="#e10f16" transform="rotate(30 428.4 991.9)"/>
<rect x="367.4" y="995.8" width="13.5" height="13.5" fill="#e10f16" transform="rotate(5 374.2 1002.5)"/>
<rect x="309.6" y="999.2" width="13.5" height="13.5" fill="#e10f16" transform="rotate(5 316.3 1006.0)"/>
<rect x="255.2" y="1003.2" width="13.5" height="13.5" fill="#e10f16" transform="rotate(5 262.0 1010.0)"/>
<rect x="199.8" y="1006.2" width="13.5" height="13.5" fill="#e10f16" transform="rotate(0 206.5 1013.0)"/>
<rect x="143.7" y="1007.5" width="13.5" height="13.5" fill="#e10f16" transform="rotate(0 150.4 1014.3)"/>
<rect x="87.3" y="1007.5" width="13.5" height="13.5" fill="#e10f16" transform="rotate(0 94.1 1014.3)"/>
<rect x="154.9" y="525.0" width="13.5" height="13.5" fill="#e4622e" transform="rotate(40 161.7 531.7)"/>
<rect x="191.9" y="567.0" width="13.5" height="13.5" fill="#e4622e" transform="rotate(40 198.7 573.8)"/>
<rect x="227.7" y="610.4" width="13.5" height="13.5" fill="#e4622e" transform="rotate(40 234.4 617.1)"/>
<rect x="267.1" y="648.6" width="13.5" height="13.5" fill="#e4622e" transform="rotate(40 273.9 655.4)"/>
<rect x="306.6" y="688.1" width="13.5" height="13.5" fill="#e4622e" transform="rotate(40 313.4 694.9)"/>
<rect x="343.9" y="729.0" width="13.5" height="13.5" fill="#e4622e" transform="rotate(40 350.6 735.7)"/>
<rect x="387.2" y="764.6" width="13.5" height="13.5" fill="#e4622e" transform="rotate(40 394.0 771.4)"/>
<rect x="425.4" y="805.5" width="13.5" height="13.5" fill="#e4622e" transform="rotate(40 432.2 812.2)"/>
<rect x="468.9" y="839.9" width="13.5" height="13.5" fill="#e4622e" transform="rotate(40 475.6 846.6)"/>
<rect x="512.1" y="876.9" width="13.5" height="13.5" fill="#e4622e" transform="rotate(40 518.9 883.6)"/>
<rect x="549.0" y="919.1" width="13.5" height="13.5" fill="#e4622e" transform="rotate(40 555.7 925.9)"/>
<rect x="560.8" y="973.4" width="13.5" height="13.5" fill="#e4622e" transform="rotate(30 567.5 980.1)"/>
<rect x="514.8" y="1001.6" width="13.5" height="13.5" fill="#e4622e" transform="rotate(5 521.5 1008.4)"/>
<rect x="458.1" y="1001.6" width="13.5" height="13.5" fill="#e4622e" transform="rotate(5 464.9 1008.4)"/>
<rect x="402.9" y="998.1" width="13.5" height="13.5" fill="#e4622e" transform="rotate(0 409.6 1004.9)"/>
<rect x="346.2" y="1000.5" width="13.5" height="13.5" fill="#e4622e" transform="rotate(0 353.0 1007.2)"/>
<rect x="290.6" y="1004.5" width="13.5" height="13.5" fill="#e4622e" transform="rotate(0 297.4 1011.3)"/>
<rect x="234.6" y="1005.5" width="13.5" height="13.5" fill="#e4622e" transform="rotate(0 241.3 1012.3)"/>
<rect x="167.7" y="521.1" width="13.5" height="13.5" fill="#f7e619" transform="rotate(40 174.4 527.9)"/>
<rect x="207.2" y="560.6" width="13.5" height="13.5" fill="#f7e619" transform="rotate(40 214.0 567.4)"/>
<rect x="244.2" y="602.8" width="13.5" height="13.5" fill="#f7e619" transform="rotate(40 250.9 609.5)"/>
<rect x="281.1" y="644.8" width="13.5" height="13.5" fill="#f7e619" transform="rotate(40 287.9 651.5)"/>
<rect x="316.9" y="686.9" width="13.5" height="13.5" fill="#f7e619" transform="rotate(40 323.6 693.6)"/>
<rect x="359.1" y="725.1" width="13.5" height="13.5" fill="#f7e619" transform="rotate(40 365.9 731.9)"/>
<rect x="399.9" y="764.6" width="13.5" height="13.5" fill="#f7e619" transform="rotate(40 406.7 771.4)"/>
<rect x="438.2" y="804.1" width="13.5" height="13.5" fill="#f7e619" transform="rotate(40 445.0 810.9)"/>
<rect x="473.9" y="846.2" width="13.5" height="13.5" fill="#f7e619" transform="rotate(40 480.7 853.0)"/>
<rect x="511.0" y="889.6" width="13.5" height="13.5" fill="#f7e619" transform="rotate(40 517.7 896.4)"/>
<rect x="545.4" y="933.4" width="13.5" height="13.5" fill="#f7e619" transform="rotate(20 552.1 940.1)"/>
<rect x="543.0" y="985.1" width="13.5" height="13.5" fill="#f7e619" transform="rotate(10 549.8 991.9)"/>
<rect x="488.9" y="997.0" width="13.5" height="13.5" fill="#f7e619" transform="rotate(5 495.6 1003.7)"/>
<rect x="433.4" y="1001.6" width="13.5" height="13.5" fill="#f7e619" transform="rotate(0 440.2 1008.4)"/>
<rect x="375.8" y="1000.5" width="13.5" height="13.5" fill="#f7e619" transform="rotate(0 382.5 1007.2)"/>
<rect x="319.6" y="999.2" width="13.5" height="13.5" fill="#f7e619" transform="rotate(0 326.4 1006.0)"/>
<rect x="231.4" y="526.2" width="13.5" height="13.5" fill="#2f58b3" transform="rotate(0 238.2 533.0)"/>
<rect x="246.8" y="578.5" width="13.5" height="13.5" fill="#2f58b3" transform="rotate(30 253.5 585.2)"/>
<rect x="274.8" y="628.2" width="13.5" height="13.5" fill="#2f58b3" transform="rotate(30 281.5 635.0)"/>
<rect x="300.2" y="678.0" width="13.5" height="13.5" fill="#2f58b3" transform="rotate(35 307.0 684.7)"/>
<rect x="328.6" y="725.1" width="13.5" height="13.5" fill="#2f58b3" transform="rotate(40 335.3 731.9)"/>
<rect x="366.9" y="767.2" width="13.5" height="13.5" fill="#2f58b3" transform="rotate(40 373.6 774.0)"/>
<rect x="401.2" y="810.5" width="13.5" height="13.5" fill="#2f58b3" transform="rotate(40 408.0 817.3)"/>
<rect x="438.2" y="852.6" width="13.5" height="13.5" fill="#2f58b3" transform="rotate(40 445.0 859.4)"/>
<rect x="475.2" y="894.8" width="13.5" height="13.5" fill="#2f58b3" transform="rotate(40 482.0 901.5)"/>
<rect x="507.6" y="941.5" width="13.5" height="13.5" fill="#2f58b3" transform="rotate(15 514.4 948.3)"/>
<rect x="497.1" y="988.8" width="13.5" height="13.5" fill="#2f58b3" transform="rotate(30 503.8 995.5)"/>
<rect x="441.6" y="997.0" width="13.5" height="13.5" fill="#2f58b3" transform="rotate(0 448.4 1003.7)"/>
<rect x="385.1" y="1000.5" width="13.5" height="13.5" fill="#2f58b3" transform="rotate(0 391.9 1007.2)"/>
<rect x="329.2" y="1003.0" width="13.5" height="13.5" fill="#2f58b3" transform="rotate(0 336.0 1009.7)"/>
<rect x="665.9" y="521.9" width="517.1" height="502.0" fill="none" stroke="#1e2128" stroke-width="1.7"/>
<line x1="646.0" y1="521.9" x2="665.9" y2="521.9" stroke="#1e2128" stroke-width="1.7"/>
<line x1="646.0" y1="772.8" x2="665.9" y2="772.8" stroke="#1e2128" stroke-width="1.7"/>
<line x1="646.0" y1="1023.9" x2="665.9" y2="1023.9" stroke="#1e2128" stroke-width="1.7"/>
<line x1="665.9" y1="1023.9" x2="665.9" y2="1042.2" stroke="#1e2128" stroke-width="1.7"/>
<line x1="924.6" y1="1023.9" x2="924.6" y2="1042.2" stroke="#1e2128" stroke-width="1.7"/>
<line x1="1183.0" y1="1023.9" x2="1183.0" y2="1042.2" stroke="#1e2128" stroke-width="1.7"/>
<text x="627.3" y="530.0" font-size="20.8" letter-spacing="2.062" text-anchor="start" fill="#1e2128" stroke="#1e2128" stroke-width="0.15" xml:space="preserve">2</text>
<text x="630.2" y="781.0" font-size="20.8" letter-spacing="0.377" text-anchor="start" fill="#1e2128" stroke="#1e2128" stroke-width="0.15" xml:space="preserve">1</text>
<text x="630.9" y="1032.0" font-size="20.8" letter-spacing="1.584" text-anchor="start" fill="#1e2128" stroke="#1e2128" stroke-width="0.15" xml:space="preserve">0</text>
<text x="650.2" y="1064.5" font-size="20.8" letter-spacing="2.013" text-anchor="start" fill="#1e2128" stroke="#1e2128" stroke-width="0.15" xml:space="preserve">0. 2</text>
<text x="909.7" y="1064.2" font-size="20.8" letter-spacing="1.637" text-anchor="start" fill="#1e2128" stroke="#1e2128" stroke-width="0.15" xml:space="preserve">0. 6</text>
<text x="1179.6" y="1064.2" font-size="20.8" letter-spacing="-0.723" text-anchor="start" fill="#1e2128" stroke="#1e2128" stroke-width="0.15" xml:space="preserve">1</text>
<text x="747.0" y="1092.0" font-size="25" letter-spacing="1.582" text-anchor="start" fill="#1e2128" stroke="#1e2128" stroke-width="0.15" xml:space="preserve">Downslope Velocity (m/s)</text>
<text x="623.7" y="915.6" font-size="26" letter-spacing="1.642" text-anchor="start" fill="#1e2128" stroke="#1e2128" stroke-width="0.15" transform="rotate(-90 623.7 915.6490234375)" xml:space="preserve">Normalization Multiplier</text>
<rect x="665.9" y="521.9" width="33.9" height="30.5" fill="#fff" stroke="#1e2128" stroke-width="1.6"/>
<text x="672.6" y="547.0" font-size="25.5" letter-spacing="0" text-anchor="start" fill="#1e2128" stroke="#1e2128" stroke-width="0.15" xml:space="preserve">E</text>
<text x="957.3" y="564.1" font-size="24" letter-spacing="2.17" text-anchor="start" fill="#1e2128" stroke="#1e2128" stroke-width="0.15" xml:space="preserve">Contour  Current</text>
<text x="959.0" y="592.4" font-size="24" letter-spacing="1.821" text-anchor="start" fill="#1e2128" stroke="#1e2128" stroke-width="0.15" xml:space="preserve">Velocity = 14cm/s</text>
<path d="M775.7,527.3 C779.4,532.3 787.6,544.6 797.6,557.4 C807.6,570.1 824.4,590.6 835.8,603.8 C847.2,617.0 858.5,627.7 865.9,636.6 C873.3,645.5 874.0,649.6 880.0,657.3 C886.0,665.0 894.0,673.7 901.9,682.8 C909.8,691.9 921.0,705.1 927.4,712.0 C933.8,718.9 935.9,720.4 940.0,724.2 C944.1,728.0 947.8,731.4 952.0,735.0 C956.2,738.6 961.1,742.0 965.5,745.6 C969.9,749.2 974.0,752.9 978.3,756.6 C982.5,760.3 986.8,764.2 991.0,768.0 C995.2,771.8 999.5,775.6 1003.8,779.6 C1008.0,783.6 1012.2,787.9 1016.5,792.3 C1020.8,796.7 1025.0,801.6 1029.3,805.8 C1033.5,810.0 1036.9,812.6 1042.0,817.3 C1047.1,822.0 1051.8,827.1 1060.0,833.9 C1068.2,840.7 1082.6,851.3 1091.5,858.3 C1100.4,865.3 1106.0,869.4 1113.3,876.0 C1120.6,882.6 1129.1,890.6 1135.2,897.9 C1141.3,905.2 1146.2,913.1 1149.8,919.8 C1153.4,926.5 1155.3,931.3 1157.1,938.0 C1158.9,944.7 1160.3,952.4 1160.7,959.9 C1161.1,967.4 1161.6,978.0 1159.6,982.8 C1157.6,987.6 1154.9,985.8 1148.6,988.8 C1142.3,991.8 1136.4,997.8 1122.0,1000.6 C1107.6,1003.4 1084.4,1004.0 1062.3,1005.4 C1040.2,1006.8 1013.7,1008.2 989.4,1009.1 C965.1,1010.0 934.7,1010.4 916.5,1010.9 C898.3,1011.4 897.1,1011.7 880.0,1012.2 C862.9,1012.7 846.6,1013.4 814.0,1013.8 C781.4,1014.2 706.1,1014.5 684.5,1014.6" fill="none" stroke="#ebd27a" stroke-width="3.8" stroke-linejoin="round" stroke-linecap="round"/>
<path d="M744.3,526.0 C747.7,530.3 754.8,539.5 764.8,551.9 C774.8,564.2 790.6,583.9 804.0,600.1 C817.4,616.3 834.9,637.9 845.0,649.3 C855.1,660.7 859.2,663.1 864.7,668.3 C870.2,673.5 872.3,674.3 878.2,680.3 C884.1,686.3 892.2,696.5 900.1,704.5 C908.0,712.5 919.2,722.3 925.6,728.4 C932.0,734.5 934.4,737.0 938.2,741.3 C942.0,745.6 944.2,750.0 948.4,754.4 C952.7,758.8 959.0,763.6 963.7,767.6 C968.4,771.6 971.8,774.4 976.5,778.3 C981.2,782.2 987.6,787.1 991.8,791.1 C996.1,795.0 998.2,798.4 1002.0,802.0 C1005.8,805.6 1010.5,809.1 1014.7,812.7 C1019.0,816.3 1023.2,820.4 1027.5,823.7 C1031.8,827.0 1034.7,828.2 1040.2,832.4 C1045.7,836.6 1052.2,842.3 1060.5,848.7 C1068.8,855.0 1081.2,863.8 1089.7,870.5 C1098.2,877.2 1104.2,881.5 1111.5,888.8 C1118.8,896.1 1126.7,905.2 1133.4,914.3 C1140.1,923.4 1147.1,934.4 1151.6,943.5 C1156.2,952.6 1159.2,961.7 1160.7,969.0 C1162.2,976.3 1160.7,983.7 1160.7,987.2 C1160.7,990.7 1162.1,987.3 1160.5,990.0 C1158.9,992.7 1157.7,1000.5 1151.0,1003.5 C1144.3,1006.5 1130.8,1006.6 1120.6,1007.8 C1110.4,1009.0 1099.7,1010.0 1090.0,1010.5 C1080.3,1011.0 1079.1,1010.4 1062.3,1010.6 C1045.5,1010.8 1013.7,1011.2 989.4,1011.5 C965.1,1011.8 934.7,1012.1 916.5,1012.3 C898.3,1012.5 896.5,1012.9 880.0,1012.8 C863.5,1012.7 827.8,1012.0 817.4,1011.9" fill="none" stroke="#e0552e" stroke-width="3.8" stroke-linejoin="round" stroke-linecap="round"/>
<path d="M749.8,526.0 C753.7,530.8 763.7,542.6 773.0,554.6 C782.3,566.6 793.5,582.8 805.8,598.3 C818.1,613.8 836.7,636.1 846.8,647.5 C856.9,658.9 861.0,661.3 866.5,666.5 C872.0,671.7 874.1,672.5 880.0,678.5 C885.9,684.5 894.0,694.7 901.9,702.7 C909.8,710.7 921.0,720.5 927.4,726.6 C933.8,732.7 936.2,735.2 940.0,739.5 C943.8,743.8 946.0,748.2 950.2,752.6 C954.5,757.0 960.8,761.8 965.5,765.8 C970.2,769.8 973.6,772.6 978.3,776.5 C983.0,780.4 989.4,785.3 993.6,789.3 C997.9,793.2 1000.0,796.6 1003.8,800.2 C1007.6,803.8 1012.2,807.3 1016.5,810.9 C1020.8,814.5 1025.0,818.6 1029.3,821.9 C1033.5,825.2 1036.5,826.4 1042.0,830.6 C1047.5,834.8 1054.0,840.5 1062.3,846.9 C1070.5,853.2 1083.0,862.0 1091.5,868.7 C1100.0,875.4 1106.0,879.7 1113.3,887.0 C1120.6,894.3 1128.5,903.4 1135.2,912.5 C1141.9,921.6 1148.9,932.6 1153.4,941.7 C1158.0,950.8 1161.0,959.9 1162.5,967.2 C1164.0,974.5 1164.0,979.9 1162.5,985.4 C1161.0,990.9 1160.4,996.7 1153.4,1000.0 C1146.4,1003.3 1135.8,1003.9 1120.6,1005.4 C1105.4,1006.9 1084.2,1008.2 1062.3,1009.1 C1040.4,1010.0 1013.7,1010.3 989.4,1010.9 C965.1,1011.5 934.7,1012.1 916.5,1012.7 C898.3,1013.3 896.5,1014.0 880.0,1014.6 C863.5,1015.2 827.8,1016.1 817.4,1016.4" fill="none" stroke="#2f55b0" stroke-width="3.8" stroke-linejoin="round" stroke-linecap="round"/>
<rect x="700.9" y="825" width="299.6" height="120.6" fill="#fff" stroke="#1e2128" stroke-width="1.6"/>
<line x1="713.9" y1="856.0" x2="762.6" y2="856.0" stroke="#ebd27a" stroke-width="4.2"/>
<text x="776.4" y="861.6" font-size="21.5" letter-spacing="0.947" text-anchor="start" fill="#1e2128" stroke="#1e2128" stroke-width="0.15" xml:space="preserve">Low grid density</text>
<line x1="713.9" y1="888.6" x2="762.6" y2="888.6" stroke="#e0552e" stroke-width="4.2"/>
<text x="776.4" y="893.1" font-size="21.5" letter-spacing="1.087" text-anchor="start" fill="#1e2128" stroke="#1e2128" stroke-width="0.15" xml:space="preserve">Moderate grid density</text>
<line x1="713.9" y1="918.9" x2="762.6" y2="918.9" stroke="#2f55b0" stroke-width="4.2"/>
<text x="776.4" y="923.4" font-size="21.5" letter-spacing="0.976" text-anchor="start" fill="#1e2128" stroke="#1e2128" stroke-width="0.15" xml:space="preserve">High grid density</text>
</svg></body></html>
